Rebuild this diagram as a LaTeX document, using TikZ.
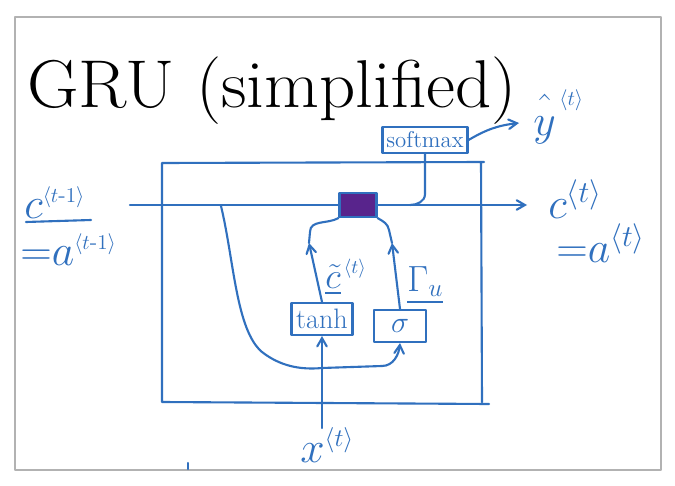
\documentclass[tikz,border=0pt]{standalone}
\usepackage{amssymb}
\usepackage{mathtools}
\usetikzlibrary{arrows,positioning}
\definecolor{penblue}{RGB}{48,112,190}
\definecolor{inkpurple}{RGB}{88,36,140}
\newcommand{\tsup}[2]{^{\text{\fontsize{#1}{#1}\selectfont$#2$}}}

\begin{document}
\begin{tikzpicture}[line cap=round,line join=round,x=0.02cm,y=-0.02cm,
	stroke/.style={draw=penblue,line width=1.2pt},
	arr/.style={stroke,->,>=angle 60},
	gatebox/.style={stroke,inner sep=0pt,minimum height=0.64cm},
	lab/.style={text=penblue,inner sep=0pt}]
	% Cadre
	\fill[white] (0,0) rectangle (675,486);
	\draw[gray!60,line width=1.5pt] (15,17) rectangle (661,470);
	\node[anchor=base west,inner sep=0pt,xscale=1.05] (title) at (27,108) {\fontsize{38.5}{40}\selectfont GRU (simplified)};
	% Cellule
	\draw[stroke] (162,163) -- (484,162) (481,162) -- (482,402) (162,402) -- (489,404) (162,163) -- (162,402);
	\node[stroke,fill=inkpurple,minimum width=0.74cm,minimum height=0.48cm,inner sep=0pt] (gate) at (358,205) {};
	\node[gatebox,minimum width=1.22cm] (tanh) at (322,319) {\fontsize{16}{16}\selectfont\color{penblue}tanh};
	\node[gatebox,minimum width=1.04cm] (sig) at (400,326) {\fontsize{17}{17}\selectfont\color{penblue}$\sigma$};
	\node[gatebox,minimum width=1.7cm,minimum height=0.52cm] (soft) at (425,140) {\fontsize{13}{13}\selectfont\color{penblue}softmax};
	% Etiquettes
	\node[lab,anchor=base west] (cprev) at (24,218) {\fontsize{32}{32}\selectfont$c\tsup{13}{\langle t\text{-}1\rangle}$};
	\node[lab,anchor=base west] (aprev) at (20,265) {\fontsize{30}{30}\selectfont${=}a\tsup{13}{\langle t\text{-}1\rangle}$};
	\node[lab,anchor=base west] (cnext) at (548,218) {\fontsize{34}{34}\selectfont$c\tsup{16}{\langle t\rangle}$};
	\node[lab,anchor=base west] (anext) at (556,262) {\fontsize{32}{32}\selectfont${=}a\tsup{16}{\langle t\rangle}$};
	\node[lab,anchor=base west] (yhat) at (533,136) {\fontsize{24}{24}\selectfont$\hat{\vphantom{h}y}\tsup{13}{\,\langle t\rangle}$};
	\node[lab,anchor=base west] (xt) at (300,462) {\fontsize{28}{28}\selectfont$x\tsup{14}{\langle t\rangle}$};
	\node[lab,anchor=base west] (ctil) at (325,288) {\fontsize{20}{20}\selectfont$\underline{\tilde{c}}\tsup{11}{\,\langle t\rangle}$};
	\node[lab,anchor=base west] (gam) at (407,291) {\fontsize{22}{22}\selectfont$\underline{\Gamma_{u}}$};
	\draw[stroke] (26,222) -- (91,220);
	% Connexions
	\coordinate (cin) at (130,205);
	\coordinate (cout) at (527,205);
	\coordinate (split) at (221,206);
	\coordinate (join) at (322,368);
	\coordinate (xin) at (322,428);
	\coordinate (merge) at (410,205);
	\coordinate (ca) at (309,243);
	\coordinate (ua) at (392,243);
	\draw[stroke] (cin) -- (gate.west);
	\draw[arr] (gate.east) -- (cout);
	\draw[stroke] (soft.south) -- ++(0,40) to[out=270,in=0] (merge);
	\draw[arr] (soft.east) to[bend left=12] (519,123);
	\draw[stroke] (split) .. controls (234,260) and (236,330) .. (262,352) .. controls (280,366) and (300,370) .. (join);
	\draw[arr] (xin) -- (tanh.south);
	\draw[arr] (join) -- (382,366) to[out=0,in=-95] (sig.south);
	\draw[arr] (tanh.north) -- (ca);
	\draw[stroke] (ca) -- (310,232) to[out=90,in=-150] (gate.south west);
	\draw[arr] (sig.north) -- (ua);
	\draw[stroke] (ua) -- (389,230) to[out=100,in=-30] (gate.south east);
	\draw[stroke] (188,463) -- (188,469);
\end{tikzpicture}
\end{document}
